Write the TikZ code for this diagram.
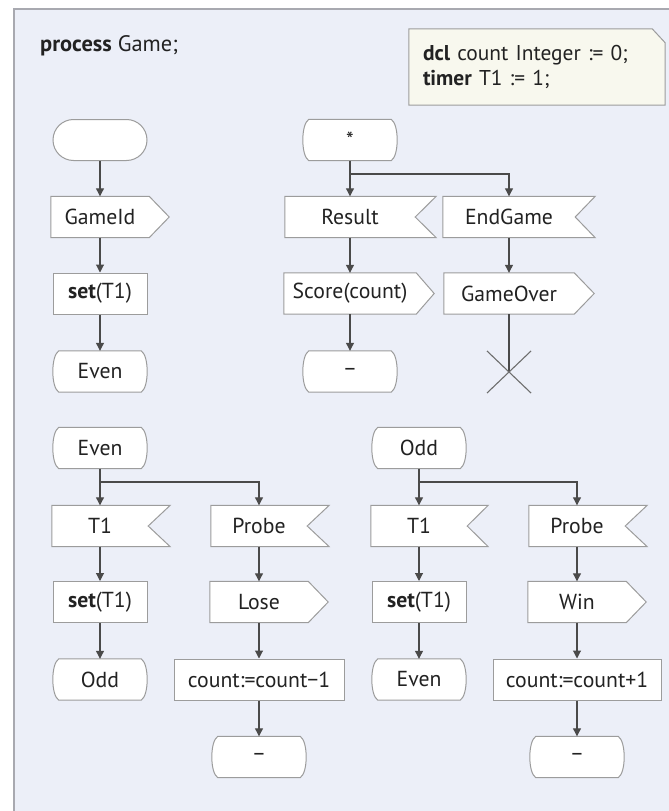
\documentclass[tikz,border=0pt]{standalone}
\usepackage{fontspec}
\setmainfont{PT Sans}
\usetikzlibrary{arrows.meta,calc}
\pgfdeclarelayer{frame}
\pgfdeclarelayer{outline}
\pgfsetlayers{frame,outline,main}

\definecolor{framefill}{HTML}{ECEFF8}
\definecolor{framedraw}{HTML}{A8A9B0}
\definecolor{boxdraw}{HTML}{9C9C9C}
\definecolor{flowline}{HTML}{4A4A4A}
\definecolor{notefill}{HTML}{F8F8EE}
\definecolor{ink}{HTML}{222222}

\tikzset{
  base/.style={inner sep=0pt, minimum height=41bp, text=ink,
    font=\fontsize{21.8}{26}\selectfont},
  startbox/.style={base, draw=boxdraw, fill=white, line width=1bp,
    rounded corners=20.5bp},
  statebox/.style={base},
  taskbox/.style={base, draw=boxdraw, fill=white, line width=1bp},
  sigbox/.style={base},
  shapeline/.style={draw=boxdraw, fill=white, line width=1bp},
  flow/.style={draw=flowline, line width=1.1bp,
    -{Triangle[width=8bp,length=8bp]}},
  plain/.style={draw=flowline, line width=1.1bp},
  stopline/.style={draw=flowline!80, line width=1.1bp},
}

% SDL state: straight top and bottom, bulging sides
\newcommand\stateoutline[1]{%
  \draw[shapeline] ([xshift=6bp]#1.north west) -- ([xshift=-6bp]#1.north east)
    .. controls ([xshift=2bp,yshift=-5bp]#1.north east)
       and ([xshift=2bp,yshift=5bp]#1.south east) .. ([xshift=-6bp]#1.south east)
    -- ([xshift=6bp]#1.south west)
    .. controls ([xshift=-2bp,yshift=5bp]#1.south west)
       and ([xshift=-2bp,yshift=-5bp]#1.north west) .. cycle;}
% SDL output: pointed right end
\newcommand\outoutline[2]{%
  \draw[shapeline] (#1.north west) -- (#1.north east) -- ([xshift=#2]#1.east)
    -- (#1.south east) -- (#1.south west) -- cycle;}
% SDL input: notched right end
\newcommand\inoutline[2]{%
  \draw[shapeline] (#1.north west) -- ([xshift=#2]#1.north east) -- (#1.east)
    -- ([xshift=#2]#1.south east) -- (#1.south west) -- cycle;}

\begin{document}
\begin{tikzpicture}[x=1bp, y=-1bp]
\useasboundingbox (0,0) rectangle (669,811);
\clip (0,0) rectangle (669,811);

\begin{pgfonlayer}{frame}
  \fill[framefill] (14,9) rectangle (680,820);
  \draw[framedraw, line width=1.5bp] (14,820) -- (14,9) -- (680,9);
\end{pgfonlayer}

% header and declarations
\node[anchor=base west, text=ink, font=\fontsize{22.5}{26}\selectfont, inner sep=0pt]
  (title) at (40,52) {\textbf{process} Game;};
\node[inner sep=0pt, minimum width=256bp, minimum height=76bp, text width=228bp,
  align=left, text=ink, font=\fontsize{21.5}{25}\selectfont]
  (note) at (537,67) {\textbf{dcl} count Integer := 0;\\\textbf{timer} T1 := 1;};
\begin{pgfonlayer}{outline}
  \draw[draw=boxdraw, fill=notefill, line width=1bp] (note.north west)
    -- ([xshift=-13bp]note.north east) -- ([yshift=-14bp]note.north east)
    -- (note.south east) -- (note.south west) -- cycle;
\end{pgfonlayer}

% ---- start transition ----
\node[startbox, minimum width=94bp] (start) at (100,140) {};
\node[sigbox, minimum width=98bp] (gameid) at (100,217) {GameId};
\node[taskbox, minimum width=94bp] (set1) at (100,293.5) {\textbf{set}(T1)};
\node[statebox, minimum width=94bp] (even1) at (100,371.5) {Even};

% ---- any state ----
\node[statebox, minimum width=94bp] (star) at (350,140) {*};
\node[sigbox, minimum width=130bp] (result) at (350,217) {Result};
\node[sigbox, minimum width=132bp] (score) at (350,293.5) {Score(count)};
\node[statebox, minimum width=94bp] (dash1) at (350,371.5) {–};
\node[sigbox, minimum width=132bp] (endgame) at (509,217) {EndGame};
\node[sigbox, minimum width=130bp] (gameover) at (509,293.5) {GameOver};
\coordinate (stop) at (509,372);
\coordinate (br1) at (350,174);

% ---- state Even ----
\node[statebox, minimum width=94bp] (even2) at (100,448) {Even};
\node[sigbox, minimum width=96bp] (t1a) at (100,526) {T1};
\node[taskbox, minimum width=94bp] (set2) at (100,602) {\textbf{set}(T1)};
\node[statebox, minimum width=94bp] (odd1) at (100,679.5) {Odd};
\node[sigbox, minimum width=96bp] (probe1) at (259,526) {Probe};
\node[sigbox, minimum width=98bp] (lose) at (259,602) {Lose};
\node[taskbox, minimum width=170bp] (dec) at (259,679.5) {count:=count−1};
\node[statebox, minimum width=94bp] (dash2) at (259,757) {–};
\coordinate (br2) at (100,482);

% ---- state Odd ----
\node[statebox, minimum width=94bp] (odd2) at (419,448) {Odd};
\node[sigbox, minimum width=96bp] (t1b) at (419,526) {T1};
\node[taskbox, minimum width=94bp] (set3) at (419,602) {\textbf{set}(T1)};
\node[statebox, minimum width=94bp] (even3) at (419,679.5) {Even};
\node[sigbox, minimum width=96bp] (probe2) at (577,526) {Probe};
\node[sigbox, minimum width=98bp] (win) at (577,602) {Win};
\node[taskbox, minimum width=168bp] (inc) at (577,679.5) {count:=count+1};
\node[statebox, minimum width=94bp] (dash3) at (577,757) {–};
\coordinate (br3) at (419,482);

% symbol outlines behind the labels
\begin{pgfonlayer}{outline}
  \foreach \s in {even1,star,dash1,even2,odd1,dash2,odd2,even3,dash3}
    {\stateoutline{\s}}
  \foreach \s/\d in {gameid/20bp,score/18bp,gameover/20bp,lose/20bp,win/20bp}
    {\outoutline{\s}{\d}}
  \foreach \s/\d in {result/21bp,endgame/20bp,t1a/22bp,probe1/22bp,t1b/21bp,probe2/22bp}
    {\inoutline{\s}{\d}}
\end{pgfonlayer}

% flow lines
\draw[flow] (start) -- (gameid);
\draw[flow] (gameid) -- (set1);
\draw[flow] (set1) -- (even1);

\draw[flow] (star) -- (result);
\draw[flow] (br1) -| (endgame.north);
\draw[flow] (result) -- (score);
\draw[flow] (score) -- (dash1);
\draw[flow] (endgame) -- (gameover);
\draw[plain] (gameover.south) -- (stop);
\draw[stopline] ($(stop)+(-22,-21)$) -- ($(stop)+(22,21)$);
\draw[stopline] ($(stop)+(-22,21)$) -- ($(stop)+(22,-21)$);

\draw[flow] (even2) -- (t1a);
\draw[flow] (br2) -| (probe1.north);
\draw[flow] (t1a) -- (set2);
\draw[flow] (set2) -- (odd1);
\draw[flow] (probe1) -- (lose);
\draw[flow] (lose) -- (dec);
\draw[flow] (dec) -- (dash2);

\draw[flow] (odd2) -- (t1b);
\draw[flow] (br3) -| (probe2.north);
\draw[flow] (t1b) -- (set3);
\draw[flow] (set3) -- (even3);
\draw[flow] (probe2) -- (win);
\draw[flow] (win) -- (inc);
\draw[flow] (inc) -- (dash3);
\end{tikzpicture}
\end{document}
